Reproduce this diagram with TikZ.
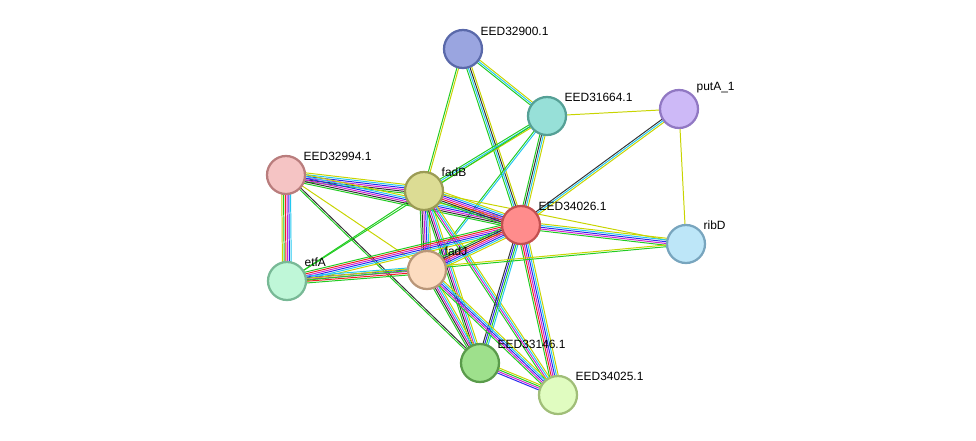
\documentclass[tikz,border=0pt]{standalone}
\usepackage{fontspec}
\setmainfont{Liberation Sans}
\usetikzlibrary{calc}
\definecolor{cn}{HTML}{22CC22}  % neighbourhood
\definecolor{ct}{HTML}{C8D400}  % text mining
\definecolor{cd}{HTML}{22C8F0}  % databases
\definecolor{ce}{HTML}{D020D0}  % experiments
\definecolor{co}{HTML}{2a2aee}  % co-occurrence
\definecolor{cx}{HTML}{333333}  % coexpression
\definecolor{cf}{HTML}{EE2222}  % fusion
\tikzset{
  prot/.style={circle,draw,line width=1.6pt,minimum size=0.95cm,inner sep=0pt},
  lbl/.style={anchor=south west,font=\fontsize{8.5}{9}\selectfont,inner sep=1pt},
}
% link: from, to, number of lines, colours
\newcommand\lnk[4]{%
  \foreach \c [count=\i] in {#4}{%
    \pgfmathsetmacro\o{(\i-(#3+1)/2)*1.25}
    \draw[\c,line width=0.7pt] ($(#1)!\o pt!90:(#2)$) -- ($(#2)!\o pt!-90:(#1)$);
  }}
\begin{document}
\begin{tikzpicture}[x=0.025cm,y=-0.025cm]
  \useasboundingbox (0,0) rectangle (976,441);
  % positions
  \coordinate (e900) at (463,49);
  \coordinate (e664) at (547,116);
  \coordinate (puta) at (679,109);
  \coordinate (e994) at (286,175);
  \coordinate (fadb) at (424,191);
  \coordinate (e026) at (521,225);
  \coordinate (ribd) at (686,244);
  \coordinate (etfa) at (287,281);
  \coordinate (fadj) at (427,270);
  \coordinate (e146) at (480,363);
  \coordinate (e025) at (558,395);

  % links
  \lnk{e900}{e664}{3}{cn,cd,ct}
  \lnk{e900}{fadb}{2}{cn,ct}
  \lnk{e900}{e026}{4}{cn,cd,cx,ct}
  \lnk{e664}{puta}{1}{ct}
  \lnk{e664}{e026}{4}{cn,cx,cd,ct}
  \lnk{e664}{fadb}{3}{cn,cd,ct}
  \lnk{e664}{fadj}{2}{cn,cd}
  \lnk{e664}{etfa}{1}{cn}
  \lnk{puta}{e026}{3}{cx,cd,ct}
  \lnk{puta}{ribd}{1}{ct}
  \lnk{e994}{fadb}{6}{cn,cx,ce,co,cd,ct}
  \lnk{e994}{e026}{6}{cn,cx,ce,co,cd,ct}
  \lnk{e994}{etfa}{6}{ct,cn,cf,ce,co,cd}
  \lnk{e994}{e146}{2}{cn,cx}
  \lnk{e994}{fadj}{1}{ct}
  \lnk{fadb}{e026}{7}{cn,cx,cf,ce,co,cd,ct}
  \lnk{fadb}{etfa}{1}{cn}
  \lnk{fadb}{fadj}{6}{cn,cx,ce,co,cd,ct}
  \lnk{fadb}{e146}{5}{cn,cx,ce,cd,ct}
  \lnk{fadb}{e025}{4}{cn,ce,cd,ct}
  \lnk{fadb}{ribd}{1}{ct}
  \lnk{e026}{ribd}{5}{cn,ce,co,cd,ct}
  \lnk{e026}{etfa}{6}{cn,cf,ce,co,cd,ct}
  \lnk{e026}{fadj}{7}{cn,cx,cf,ce,co,cd,ct}
  \lnk{e026}{e146}{4}{cx,co,cn,cd}
  \lnk{e026}{e025}{6}{cn,cf,ce,co,cd,ct}
  \lnk{etfa}{fadj}{5}{cn,cf,ce,co,cd}
  \lnk{etfa}{ribd}{2}{cn,ct}
  \lnk{fadj}{e146}{5}{cn,cx,ce,cd,ct}
  \lnk{fadj}{e025}{5}{cn,ce,co,cd,ct}
  \lnk{e146}{e025}{4}{co,ce,cn,ct}

  % proteins
  \node[prot,fill={rgb,255:red,154;green,165;blue,224},draw={rgb,255:red,90;green,105;blue,170}] (n900) at (e900) {};
  \node[prot,fill={rgb,255:red,151;green,224;blue,216},draw={rgb,255:red,85;green,160;blue,150}] (n664) at (e664) {};
  \node[prot,fill={rgb,255:red,205;green,185;blue,247},draw={rgb,255:red,145;green,120;blue,195}] (nput) at (puta) {};
  \node[prot,fill={rgb,255:red,245;green,196;blue,196},draw={rgb,255:red,185;green,125;blue,125}] (n994) at (e994) {};
  \node[prot,fill={rgb,255:red,220;green,220;blue,148},draw={rgb,255:red,155;green,155;blue,85}] (nfb) at (fadb) {};
  \node[prot,fill={rgb,255:red,255;green,140;blue,140},draw={rgb,255:red,195;green,80;blue,80}] (n026) at (e026) {};
  \node[prot,fill={rgb,255:red,189;green,230;blue,248},draw={rgb,255:red,120;green,165;blue,190}] (nrib) at (ribd) {};
  \node[prot,fill={rgb,255:red,191;green,247;blue,216},draw={rgb,255:red,120;green,185;blue,150}] (netf) at (etfa) {};
  \node[prot,fill={rgb,255:red,252;green,220;blue,192},draw={rgb,255:red,185;green,150;blue,120}] (nfj) at (fadj) {};
  \node[prot,fill={rgb,255:red,158;green,224;blue,140},draw={rgb,255:red,90;green,155;blue,75}] (n146) at (e146) {};
  \node[prot,fill={rgb,255:red,224;green,252;blue,192},draw={rgb,255:red,160;green,190;blue,120}] (n025) at (e025) {};

  % labels
  \node[lbl] at ($(n900)+(16,-12)$) {EED32900.1};
  \node[lbl] at ($(n664)+(16,-13)$) {EED31664.1};
  \node[lbl] at ($(nput)+(16,-14)$) {putA\_1};
  \node[lbl] at ($(n994)+(16,-13)$) {EED32994.1};
  \node[lbl] at ($(nfb)+(16,-13)$) {fadB};
  \node[lbl] at ($(n026)+(16,-13)$) {EED34026.1};
  \node[lbl] at ($(nrib)+(16,-13)$) {ribD};
  \node[lbl] at ($(netf)+(16,-13)$) {etfA};
  \node[lbl] at ($(nfj)+(16,-13)$) {fadJ};
  \node[lbl] at ($(n146)+(16,-13)$) {EED33146.1};
  \node[lbl] at ($(n025)+(16,-13)$) {EED34025.1};
\end{tikzpicture}
\end{document}
